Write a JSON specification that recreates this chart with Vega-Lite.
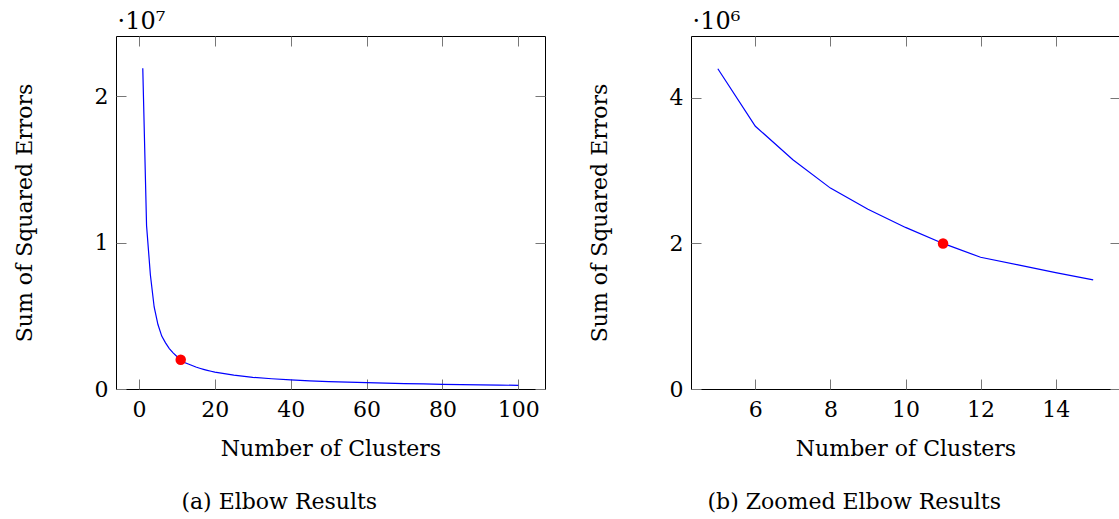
{
  "$schema": "https://vega.github.io/schema/vega-lite/v6.json",
  "padding": {"left": 12, "top": 8, "right": 0, "bottom": 0},
  "background": "white",
  "datasets": {
    "sse": [
      {"k": 1, "sse": 21900000}, {"k": 2, "sse": 11150000}, {"k": 3, "sse": 7800000}, {"k": 4, "sse": 5600000},
      {"k": 5, "sse": 4400000}, {"k": 6, "sse": 3610000}, {"k": 7, "sse": 3150000}, {"k": 8, "sse": 2760000},
      {"k": 9, "sse": 2470000}, {"k": 10, "sse": 2220000}, {"k": 11, "sse": 2000000}, {"k": 12, "sse": 1810000},
      {"k": 13, "sse": 1705000}, {"k": 14, "sse": 1600000}, {"k": 15, "sse": 1500000}, {"k": 16, "sse": 1420000},
      {"k": 17, "sse": 1345000}, {"k": 18, "sse": 1275000}, {"k": 19, "sse": 1210000}, {"k": 20, "sse": 1150000},
      {"k": 25, "sse": 950000}, {"k": 30, "sse": 800000}, {"k": 35, "sse": 700000}, {"k": 40, "sse": 620000},
      {"k": 45, "sse": 560000}, {"k": 50, "sse": 510000}, {"k": 55, "sse": 470000}, {"k": 60, "sse": 430000},
      {"k": 65, "sse": 400000}, {"k": 70, "sse": 370000}, {"k": 75, "sse": 345000}, {"k": 80, "sse": 320000},
      {"k": 85, "sse": 300000}, {"k": 90, "sse": 280000}, {"k": 95, "sse": 265000}, {"k": 100, "sse": 250000}
    ],
    "elbow": [{"k": 11, "sse": 2000000}]
  },
  "hconcat": [
    {
      "width": 429, "height": 353,
      "title": {"text": "(a) Elbow Results", "orient": "bottom", "anchor": "middle", "frame": "bounds", "offset": 33},
      "layer": [
        {
          "data": {"name": "sse"},
          "mark": {"type": "line", "color": "#0000ff", "strokeWidth": 1.2, "clip": true},
          "encoding": {
            "x": {"field": "k", "type": "quantitative", "scale": {"domain": [-6.06, 107.04], "nice": false, "zero": false},
                  "axis": {"orient": "bottom", "values": [0, 20, 40, 60, 80, 100], "title": "Number of Clusters", "labelPadding": 20, "titlePadding": 18}},
            "y": {"field": "sse", "type": "quantitative", "scale": {"domain": [0, 24100000], "nice": false},
                  "axis": {"orient": "left", "values": [0, 10000000, 20000000], "labelExpr": "datum.value / 10000000", "title": "Sum of Squared Errors", "labelPadding": 18, "titlePadding": 58}}
          }
        },
        {
          "data": {"name": "elbow"},
          "mark": {"type": "circle", "color": "#ff0000", "size": 110, "opacity": 1},
          "encoding": {
            "x": {"field": "k", "type": "quantitative", "scale": {"domain": [-6.06, 107.04], "nice": false, "zero": false},
                  "axis": {"orient": "top", "values": [0, 20, 40, 60, 80, 100], "labels": false, "title": "·10⁷", "titleFontSize": 24, "titleAnchor": "start", "titleAlign": "left", "titleBaseline": "alphabetic", "titleX": 1, "titleY": -8}},
            "y": {"field": "sse", "type": "quantitative", "scale": {"domain": [0, 24100000], "nice": false},
                  "axis": {"orient": "right", "values": [0, 10000000, 20000000], "labels": false, "title": null}}
          }
        }
      ],
      "resolve": {"axis": {"x": "independent", "y": "independent"}}
    },
    {
      "width": 429, "height": 353,
      "title": {"text": "(b) Zoomed Elbow Results", "orient": "bottom", "anchor": "middle", "frame": "bounds", "offset": 33},
      "layer": [
        {
          "data": {"name": "sse"},
          "transform": [{"filter": "datum.k >= 5 && datum.k <= 15"}],
          "mark": {"type": "line", "color": "#0000ff", "strokeWidth": 1.2, "clip": true},
          "encoding": {
            "x": {"field": "k", "type": "quantitative", "scale": {"domain": [4.285, 15.715], "nice": false, "zero": false},
                  "axis": {"orient": "bottom", "values": [6, 8, 10, 12, 14], "title": "Number of Clusters", "labelPadding": 20, "titlePadding": 18}},
            "y": {"field": "sse", "type": "quantitative", "scale": {"domain": [0, 4850000], "nice": false},
                  "axis": {"orient": "left", "values": [0, 2000000, 4000000], "labelExpr": "datum.value / 1000000", "title": "Sum of Squared Errors", "labelPadding": 18, "titlePadding": 58}}
          }
        },
        {
          "data": {"name": "elbow"},
          "mark": {"type": "circle", "color": "#ff0000", "size": 110, "opacity": 1},
          "encoding": {
            "x": {"field": "k", "type": "quantitative", "scale": {"domain": [4.285, 15.715], "nice": false, "zero": false},
                  "axis": {"orient": "top", "values": [6, 8, 10, 12, 14], "labels": false, "title": "·10⁶", "titleFontSize": 24, "titleAnchor": "start", "titleAlign": "left", "titleBaseline": "alphabetic", "titleX": 1, "titleY": -8}},
            "y": {"field": "sse", "type": "quantitative", "scale": {"domain": [0, 4850000], "nice": false},
                  "axis": {"orient": "right", "values": [0, 2000000, 4000000], "labels": false, "title": null}}
          }
        }
      ],
      "resolve": {"axis": {"x": "independent", "y": "independent"}}
    }
  ],
  "spacing": 146,
  "bounds": "flush",
  "config": {
    "font": "DejaVu Serif",
    "view": {"stroke": "black", "strokeWidth": 1},
    "axis": {
      "domain": false, "grid": false, "tickColor": "#777", "tickWidth": 1, "tickSize": -10,
      "labelFont": "DejaVu Serif", "titleFont": "DejaVu Serif", "labelFontSize": 22, "titleFontSize": 22,
      "labelColor": "black", "titleColor": "black", "titleFontWeight": "normal"
    },
    "title": {"font": "DejaVu Serif", "fontSize": 22, "fontWeight": "normal", "color": "black"}
  }
}
